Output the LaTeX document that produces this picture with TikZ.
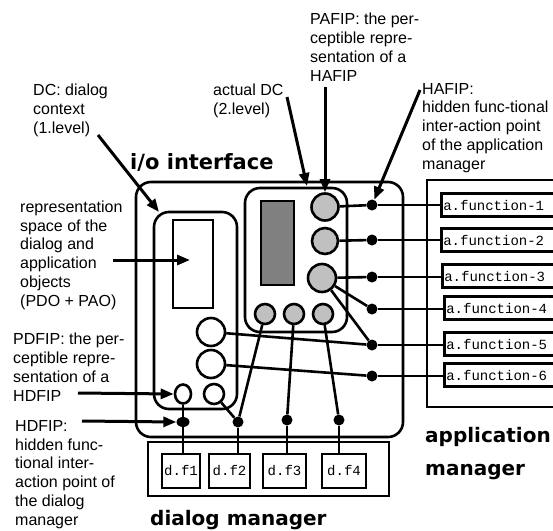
\documentclass[tikz,border=0pt]{standalone}
\usepackage{fontspec}
\setmainfont{Liberation Sans}
\newfontfamily\monof{Liberation Mono}
\newfontfamily\titlef{DejaVu Sans}
\usetikzlibrary{arrows.meta,calc,shapes.geometric}
\definecolor{lgray}{HTML}{C0C0C0}
\definecolor{dgray}{HTML}{808080}
\begin{document}
\begin{tikzpicture}[x=1pt,y=-1pt,
  lbl/.style={anchor=base west, inner sep=0, align=left, font=\fontsize{16}{18.7}\selectfont},
  ttl/.style={anchor=base west, inner sep=0, font=\titlef\bfseries\fontsize{20}{24}\selectfont},
  rbox/.style={draw, line width=2.6pt, rounded corners=15pt, inner sep=0},
  pbox/.style={draw, line width=2.6pt, inner sep=0},
  gcirc/.style={circle, draw, line width=2.6pt, fill=lgray, inner sep=0},
  wcirc/.style={circle, draw, line width=2.6pt, fill=white, inner sep=0},
  dot/.style={circle, fill=black, inner sep=0, minimum size=11pt},
  conn/.style={line width=2.6pt},
  arr/.style={line width=3pt, -{Triangle[length=13pt,width=10pt]}},
  fbox/.style={draw, line width=2.6pt, anchor=west, inner sep=2pt, text width=130pt, align=left, minimum height=23pt, font=\monof\fontsize{14}{16}\selectfont},
  dfbox/.style={draw, line width=2.6pt, inner sep=0, minimum height=34pt, font=\monof\fontsize{14}{16}\selectfont},
]
\clip (0,0) rectangle (553,530);

% containers
\node[rbox, minimum width=267pt, minimum height=255pt] (io) at (269.5,309.5) {};
\node[rbox, minimum width=83pt, minimum height=197pt] (dc1) at (195.5,310.5) {};
\node[rbox, minimum width=102pt, minimum height=144pt] (dc2) at (296,260) {};
\node[pbox, minimum width=40pt, minimum height=88pt] (rep) at (193,264) {};
\node[pbox, fill=dgray, minimum width=33pt, minimum height=84pt] (dark) at (277.5,243) {};
\node[pbox, minimum width=143pt, minimum height=227pt] (app) at (498.5,293.5) {};
\node[pbox, minimum width=241pt, minimum height=54pt] (dm) at (268.5,469) {};

% function boxes
\node[fbox] (f1) at (440,205) {a.function-1};
\node[fbox] (f2) at (440,240) {a.function-2};
\node[fbox] (f3) at (441,276) {a.function-3};
\node[fbox] (f4) at (443,308) {a.function-4};
\node[fbox] (f5) at (443,344) {a.function-5};
\node[fbox] (f6) at (443,375) {a.function-6};

\node[dfbox, minimum width=38pt] (df1) at (181,471) {\raisebox{-6pt}{d.f1}};
\node[dfbox, minimum width=41pt] (df2) at (229.5,471) {\raisebox{-6pt}{d.f2}};
\node[dfbox, minimum width=43pt] (df3) at (284.5,471) {\raisebox{-6pt}{d.f3}};
\node[dfbox, minimum width=44pt] (df4) at (344,471) {\raisebox{-6pt}{d.f4}};

% perceptible points
\node[gcirc, minimum size=27pt] (c1) at (325,207) {};
\node[gcirc, minimum size=26pt] (c2) at (325,241) {};
\node[gcirc, minimum size=28pt] (c3) at (322,278) {};
\node[gcirc, minimum size=20pt] (g1) at (265,314) {};
\node[gcirc, minimum size=20pt] (g2) at (294,314) {};
\node[gcirc, minimum size=20pt] (g3) at (323,314) {};
\node[wcirc, minimum size=28pt] (w1) at (211,332) {};
\node[wcirc, minimum size=28pt] (w2) at (211,364) {};
\node[ellipse, draw, line width=2.6pt, fill=white, inner sep=0, minimum width=16pt, minimum height=19pt] (s1) at (183,394) {};
\node[wcirc, minimum size=20pt] (s2) at (214,394) {};

% hidden points
\node[dot] (h1) at (372,205) {};
\node[dot] (h2) at (372,240) {};
\node[dot] (h3) at (372,277) {};
\node[dot] (h4) at (372,309) {};
\node[dot] (h5) at (372,345) {};
\node[dot] (h6) at (372,376) {};
\node[ellipse, fill=black, inner sep=0, minimum width=13pt, minimum height=10pt] (b1) at (183,422) {};
\node[dot] (b2) at (238,422) {};
\node[dot] (b3) at (287,420) {};
\node[dot] (b4) at (339,420) {};

% connectors
\draw[conn] (c1) -- (h1); \draw[conn] (h1) -- (h1 -| f1.west);
\draw[conn] (c2) -- (h2); \draw[conn] (h2) -- (h2 -| f2.west);
\draw[conn] (c3) -- (h3); \draw[conn] (h3) -- (h3 -| f3.west);
\draw[conn] (c3) -- (h4); \draw[conn] (h4) -- (h4 -| f4.west);
\draw[conn] (c3) -- (h5); \draw[conn] (h5) -- (h5 -| f5.west);
\draw[conn] (w1) -- (h5);
\draw[conn] (w2) -- (h6); \draw[conn] (h6) -- (h6 -| f6.west);
\draw[conn] (s1) -- (b1); \draw[conn] (b1) -- (b1 |- df1.north);
\draw[conn] (s2) -- (b2); \draw[conn] (g1) -- (b2); \draw[conn] (b2) -- (b2 |- df2.north);
\draw[conn] (g2) -- (b3); \draw[conn] (b3) -- (b3 |- df3.north);
\draw[conn] (g3) -- (b4); \draw[conn] (b4) -- (b4 |- df4.north);

% titles
\node[ttl, font=\titlef\bfseries\fontsize{21}{24}\selectfont] (tio) at (130,169) {i/o interface};
\node[ttl] (tdm) at (150,525) {dialog manager};
\node[ttl] (tam1) at (425,442) {application};
\node[ttl] (tam2) at (425,475) {manager};

% labels (anchored at the baseline of the last line)
\node[lbl] (ldc) at (33,133) {DC: dialog\\context\\(1.level)};
\node[lbl] (lad) at (213,114) {actual DC\\(2.level)};
\node[lbl] (lpa) at (310,81) {PAFIP: the per-\\ceptible repre-\\sentation of a\\HAFIP};
\node[lbl] (lha) at (422,169) {HAFIP:\\hidden func-tional\\inter-action point\\of the application\\manager};
\node[lbl] (lrep) at (20,306) {representation\\space of the\\dialog and\\application\\objects\\(PDO + PAO)};
\node[lbl] (lpd) at (13,401) {PDFIP: the per-\\ceptible repre-\\sentation of a\\HDFIP};
\node[lbl] (lhd) at (15,525) {HDFIP:\\hidden func-\\tional inter-\\action point of\\the dialog\\manager};

% arrows
\coordinate (a1s) at (98,135); \coordinate (a1e) at (159,212);
\draw[arr] (a1s) -- (a1e);
\coordinate (a2s) at (287,97); \coordinate (a2e) at (307,186);
\draw[arr] (a2s) -- (a2e);
\coordinate (a3s) at (325,87);
\draw[arr] (a3s) -- (c1.north);
\coordinate (a4s) at (420,90);
\draw[arr] (a4s) -- (h1);
\coordinate (a5s) at (113,260); \coordinate (a5e) at (190,260);
\draw[arr] (a5s) -- (a5e);
\coordinate (a6s) at (78,393);
\draw[arr] (a6s) -- (s1.west);
\coordinate (a7s) at (82,421);
\draw[arr] (a7s) -- (b1.west);
\end{tikzpicture}
\end{document}
